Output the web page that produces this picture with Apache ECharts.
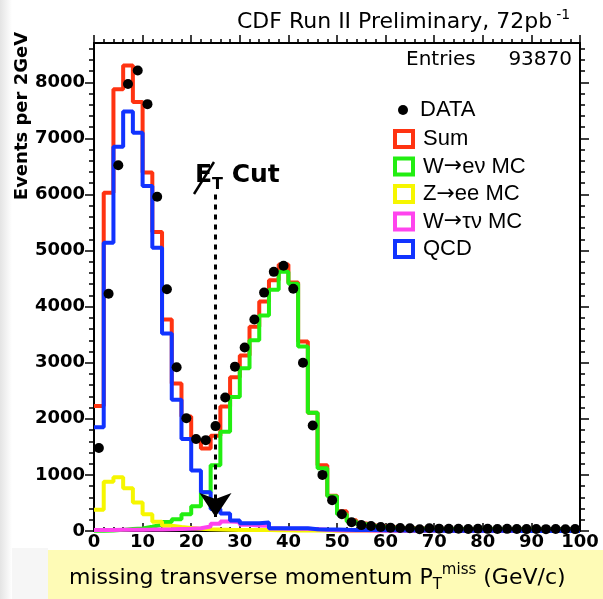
<!DOCTYPE html>
<html>
<head>
<meta charset="utf-8">
<script src="https://cdn.jsdelivr.net/npm/echarts@6/dist/echarts.min.js"></script>
<style>
  html, body { margin: 0; padding: 0; background: #fff; }
  #main { width: 603px; height: 599px; }
</style>
</head>
<body>
<div id="main"></div>
<script>
// missing transverse momentum, 2 GeV bins from 0 to 100
var binWidth = 2;

var dataCounts = [1480, 4230, 6520, 7970, 8210, 7610, 5960, 4310, 2920, 2010,
  1640, 1620, 1870, 2380, 2930, 3270, 3770, 4250, 4620, 4730,
  4320, 3000, 1880, 1000, 550, 300, 155, 105, 90, 70,
  60, 55, 50, 32, 50, 42, 38, 40, 36, 40,
  38, 35, 38, 36, 34, 36, 33, 35, 32, 34];

var sumCounts = [2230, 6030, 7875, 8300, 7650, 6390, 5330, 3770, 2630, 2040,
  1600, 1470, 1700, 2220, 2740, 3130, 3640, 4090, 4470, 4750,
  4430, 3380, 2110, 1170, 630, 350, 190, 135, 100, 80,
  65, 55, 48, 44, 42, 40, 38, 37, 36, 35,
  34, 33, 32, 31, 30, 29, 28, 27, 26, 25];

var wenuCounts = [5, 10, 20, 35, 45, 75, 110, 160, 210, 300,
  440, 690, 1170, 1770, 2390, 2900, 3400, 3840, 4300, 4620,
  4410, 3290, 2110, 1120, 620, 300, 170, 120, 90, 70,
  57, 48, 42, 38, 36, 35, 34, 33, 32, 31,
  30, 29, 28, 27, 26, 25, 24, 23, 22, 21];

var zeeCounts = [380, 880, 960, 760, 510, 300, 165, 95, 70, 55,
  40, 32, 25, 22, 20, 18, 17, 16, 14, 12,
  10, 9, 8, 7, 6, 5, 5, 4, 4, 3,
  3, 3, 2, 2, 2, 2, 2, 1, 1, 1,
  1, 1, 1, 1, 1, 1, 1, 1, 1, 1];

var wtaunuCounts = [20, 20, 22, 22, 24, 25, 27, 30, 35, 40,
  50, 80, 130, 170, 160, 110, 100, 95, 45, 40,
  40, 38, 30, 22, 15, 10, 8, 7, 6, 5,
  5, 4, 4, 3, 3, 3, 2, 2, 2, 2,
  2, 1, 1, 1, 1, 1, 1, 1, 1, 1];

var qcdCounts = [1850, 5140, 6850, 7480, 7100, 6150, 5050, 3520, 2340, 1640,
  1080, 690, 390, 310, 185, 140, 140, 150, 50, 50,
  50, 50, 30, 25, 25, 22, 20, 18, 16, 14,
  12, 10, 9, 8, 7, 6, 5, 5, 4, 4,
  3, 3, 3, 2, 2, 2, 2, 2, 1, 1];

var yTicks = [0, 1000, 2000, 3000, 4000, 5000, 6000, 7000, 8000];
var cutValue = 25;

var yMinorTicks = [];
for (var v = 0; v <= 8600; v += 200) yMinorTicks.push(v);

var RED = '#ff3311', GREEN = '#22ee11', YELLOW = '#f6f600', MAGENTA = '#ff44ee', BLUE = '#1133ff';

// histogram outline: one point per left bin edge, plus closing edge
function stepPoints(counts) {
  var pts = [];
  for (var i = 0; i < counts.length; i++) pts.push([i * binWidth, counts[i]]);
  pts.push([counts.length * binWidth, counts[counts.length - 1]]);
  return pts;
}
function centerPoints(counts) {
  var pts = [];
  for (var i = 0; i < counts.length; i++) pts.push([i * binWidth + binWidth / 2, counts[i]]);
  return pts;
}

function histSeries(name, counts, color) {
  return {
    name: name,
    type: 'line',
    step: 'end',
    data: stepPoints(counts),
    symbol: 'none',
    color: color,
    lineStyle: { color: color, width: 4 },
    emphasis: { disabled: true }
  };
}

var labelFont = { fontFamily: 'DejaVu Sans', fontWeight: 'bold', fontSize: 18, color: '#000' };
var axisLine = { show: true, onZero: false, lineStyle: { color: '#000', width: 2 } };
var tickLine = { color: '#000', width: 1.5 };
var legendText = {
  fontFamily: 'Liberation Sans', fontSize: 22, lineHeight: 22, color: '#000',
  rich: { ar: { fontFamily: 'DejaVu Sans', fontSize: 22, lineHeight: 22, color: '#000' } }
};

function hollow(name, color) {
  return { name: name, icon: 'rect', itemStyle: { color: '#fff', borderColor: color, borderWidth: 4 } };
}

var chart = echarts.init(document.getElementById('main'));
chart.setOption({
  animation: false,
  backgroundColor: '#fff',
  grid: { left: 94, right: 23, top: 43, bottom: 68 },
  xAxis: [{
    type: 'value', min: 0, max: 100, interval: 10, position: 'bottom',
    axisLine: axisLine,
    axisTick: { inside: true, length: 8, lineStyle: tickLine },
    minorTick: { show: true, splitNumber: 5, length: 4, lineStyle: tickLine },
    axisLabel: Object.assign({ margin: 2 }, labelFont),
    splitLine: { show: false }
  }, {
    type: 'value', min: 0, max: 100, interval: 10, position: 'top',
    axisLine: axisLine,
    axisTick: { length: 8, lineStyle: tickLine },
    minorTick: { show: true, splitNumber: 5, length: 4, lineStyle: tickLine },
    axisLabel: { show: false },
    splitLine: { show: false }
  }],
  yAxis: [{
    type: 'value', min: 0, max: 8700, position: 'left',
    axisLine: axisLine,
    axisTick: { customValues: yTicks, length: 9, lineStyle: tickLine },
    axisLabel: Object.assign({ customValues: yTicks, margin: 9, formatter: function (v) { return String(v); } }, labelFont),
    splitLine: { show: false }
  }, {
    type: 'value', min: 0, max: 8700, position: 'left',
    axisLine: { show: false, onZero: false },
    axisTick: { customValues: yMinorTicks, length: 5, lineStyle: tickLine },
    axisLabel: { show: false },
    splitLine: { show: false }
  }, {
    type: 'value', min: 0, max: 8700, position: 'right',
    axisLine: axisLine,
    axisTick: { customValues: yTicks, length: 9, lineStyle: tickLine },
    axisLabel: { show: false },
    splitLine: { show: false }
  }, {
    type: 'value', min: 0, max: 8700, position: 'right',
    axisLine: { show: false, onZero: false },
    axisTick: { customValues: yMinorTicks, length: 5, lineStyle: tickLine },
    axisLabel: { show: false },
    splitLine: { show: false }
  }],
  legend: [{
    data: [{ name: 'DATA', icon: 'circle' }],
    left: 393, top: 94,
    itemWidth: 10, itemHeight: 10,
    selectedMode: false,
    textStyle: Object.assign({ padding: [0, 0, 0, 7] }, legendText)
  }, {
    data: [hollow('Sum', RED), hollow('W\u2192e\u03bd MC', GREEN), hollow('Z\u2192ee MC', YELLOW),
      hollow('W\u2192\u03c4\u03bd MC', MAGENTA), hollow('QCD', BLUE)],
    orient: 'vertical',
    left: 388, top: 123,
    itemWidth: 18, itemHeight: 16, itemGap: 5.5,
    selectedMode: false,
    formatter: function (name) { return name.replace('\u2192', '{ar|\u2192}'); },
    textStyle: Object.assign({ padding: [0, 0, 0, 5] }, legendText)
  }],
  series: [
    histSeries('Sum', sumCounts, RED),
    histSeries('W\u2192e\u03bd MC', wenuCounts, GREEN),
    histSeries('Z\u2192ee MC', zeeCounts, YELLOW),
    histSeries('W\u2192\u03c4\u03bd MC', wtaunuCounts, MAGENTA),
    histSeries('QCD', qcdCounts, BLUE),
    {
      name: 'DATA',
      type: 'scatter',
      data: centerPoints(dataCounts),
      symbolSize: 10,
      itemStyle: { color: '#000', opacity: 1 },
      z: 10,
      markLine: {
        silent: true,
        label: { show: false },
        lineStyle: { color: '#000', width: 3, type: [5, 5] },
        data: [[
          { coord: [cutValue, 6000], symbol: 'none' },
          { coord: [cutValue, 250], symbol: 'arrow', symbolSize: 24 }
        ]]
      }
    }
  ],
  graphic: [
    {
      type: 'rect', silent: true, z: -10,
      shape: { x: 0, y: 0, width: 12, height: 599 },
      style: { fill: new echarts.graphic.LinearGradient(0, 0, 1, 0, [{ offset: 0, color: '#e4e4e4' }, { offset: 1, color: '#ffffff' }]) }
    },
    { type: 'rect', silent: true, z: -10, shape: { x: 12, y: 548, width: 36, height: 51 }, style: { fill: '#f6f6f6' } },
    { type: 'rect', silent: true, z: -9, shape: { x: 48, y: 550, width: 555, height: 49 }, style: { fill: '#fefbb6' } },
    {
      type: 'text', left: 69, top: 563,
      style: {
        text: '{a|missing transverse momentum P}{sub|T}{sup|miss}{a| (GeV/c)}',
        fill: '#000',
        rich: {
          a: { fontFamily: 'DejaVu Sans', fontSize: 22, lineHeight: 30, fill: '#000' },
          sub: { fontFamily: 'DejaVu Sans', fontSize: 15, lineHeight: 15, verticalAlign: 'bottom', fill: '#000' },
          sup: { fontFamily: 'DejaVu Sans', fontSize: 15, lineHeight: 25, verticalAlign: 'top', fill: '#000' }
        }
      }
    },
    {
      type: 'text', left: 237, top: 8,
      style: {
        text: '{a|CDF Run II Preliminary, 72pb}{s|-1}',
        fill: '#000',
        rich: {
          a: { fontFamily: 'DejaVu Sans', fontSize: 22, lineHeight: 28, fill: '#000' },
          s: { fontFamily: 'DejaVu Sans', fontSize: 14, lineHeight: 18, verticalAlign: 'top', padding: [0, 0, 0, 4], fill: '#000' }
        }
      }
    },
    {
      type: 'text', x: 406, y: 60,
      style: { text: 'Entries', fontFamily: 'DejaVu Sans', fontSize: 20, fill: '#000', verticalAlign: 'middle' }
    },
    {
      type: 'text', x: 572, y: 60,
      style: { text: '93870', fontFamily: 'DejaVu Sans', fontSize: 20, fill: '#000', align: 'right', verticalAlign: 'middle' }
    },
    {
      type: 'text', x: 22, y: 116, rotation: Math.PI / 2,
      style: { text: 'Events per 2GeV', fontFamily: 'DejaVu Sans', fontWeight: 'bold', fontSize: 18, fill: '#000', align: 'center', verticalAlign: 'middle' }
    },
    {
      type: 'text', left: 195, top: 163,
      style: {
        text: '{e|E}{t|T}{c| Cut}',
        fill: '#000',
        rich: {
          e: { fontFamily: 'DejaVu Sans', fontWeight: 'bold', fontSize: 25, lineHeight: 34, fill: '#000' },
          t: { fontFamily: 'DejaVu Sans', fontWeight: 'bold', fontSize: 16, lineHeight: 15, verticalAlign: 'bottom', fill: '#000' },
          c: { fontFamily: 'DejaVu Sans', fontWeight: 'bold', fontSize: 25, lineHeight: 34, fill: '#000' }
        }
      }
    },
    {
      // slash through the E of missing E_T
      type: 'line', silent: true, z: 100,
      shape: { x1: 194, y1: 194, x2: 214, y2: 162 },
      style: { stroke: '#000', lineWidth: 2.5 }
    }
  ]
});
</script>
</body>
</html>
